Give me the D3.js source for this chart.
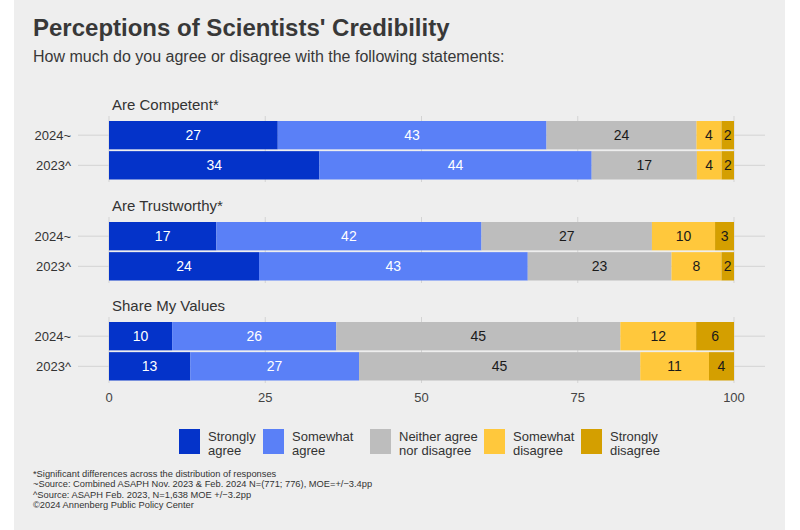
<!DOCTYPE html>
<html>
<head>
<meta charset="utf-8">
<script src="https://cdn.jsdelivr.net/npm/d3@7"></script>
<style>
  html, body { margin: 0; padding: 0; background: #ffffff; }
  svg { display: block; font-family: "Liberation Sans", Arial, Helvetica, sans-serif; }
</style>
</head>
<body>
<svg id="chart" width="800" height="530"></svg>
<script>
// ---- data ----
const facets = ["Are Competent*", "Are Trustworthy*", "Share My Values"];
const years = ["2024~", "2023^"];
const responses = ["Strongly agree", "Somewhat agree", "Neither agree nor disagree", "Somewhat disagree", "Strongly disagree"];
const legendLines = [["Strongly", "agree"], ["Somewhat", "agree"], ["Neither agree", "nor disagree"], ["Somewhat", "disagree"], ["Strongly", "disagree"]];
const colors = ["#0433c9", "#5a80f7", "#bdbdbd", "#ffc83c", "#d49f00"];
const labelColors = ["#ffffff", "#ffffff", "#1a1a1a", "#1a1a1a", "#1a1a1a"];
const competent2024 = [27, 43, 24, 4, 2];
const competent2023 = [34, 44, 17, 4, 2];
const trustworthy2024 = [17, 42, 27, 10, 3];
const trustworthy2023 = [24, 43, 23, 8, 2];
const values2024 = [10, 26, 45, 12, 6];
const values2023 = [13, 27, 45, 11, 4];
const xTicks = [0, 25, 50, 75, 100];
const footnotes = [
  "*Significant differences across the distribution of responses",
  "~Source: Combined ASAPH Nov. 2023 & Feb. 2024 N=(771; 776), MOE=+/\u22123.4pp",
  "^Source: ASAPH Feb. 2023, N=1,638 MOE +/\u22123.2pp",
  "\u00a92024 Annenberg Public Policy Center"
];
const title = "Perceptions of Scientists' Credibility";
const subtitle = "How much do you agree or disagree with the following statements:";

const rows = [
  [competent2024, competent2023],
  [trustworthy2024, trustworthy2023],
  [values2024, values2023]
];

// ---- layout ----
const svg = d3.select("#chart");
svg.append("rect").attr("x", 14).attr("y", 0).attr("width", 771).attr("height", 530).attr("fill", "#eeeeee");

svg.append("text").attr("x", 33).attr("y", 36).attr("font-size", 24).attr("font-weight", "bold")
  .attr("fill", "#383838").text(title);
svg.append("text").attr("x", 33).attr("y", 62).attr("font-size", 16)
  .attr("fill", "#383838").text(subtitle);

const x = d3.scaleLinear().domain([0, 100]).range([109, 734]);
const facetTop = [121, 222, 322];
const gridColor = "#d3d3d3";

facets.forEach((f, fi) => {
  const top = facetTop[fi];
  const y = d3.scaleBand().domain(years).range([top, top + 58.5]).paddingInner(0.06);
  const g = svg.append("g");
  // vertical grid
  g.selectAll("line.v").data(xTicks).join("line")
    .attr("x1", d => x(d)).attr("x2", d => x(d))
    .attr("y1", top - 5).attr("y2", top + 61)
    .attr("stroke", gridColor).attr("stroke-width", 1);
  // horizontal grid
  g.selectAll("line.h").data(years).join("line")
    .attr("x1", 78).attr("x2", 765)
    .attr("y1", d => y(d) + y.bandwidth() / 2).attr("y2", d => y(d) + y.bandwidth() / 2)
    .attr("stroke", gridColor).attr("stroke-width", 1);
  // facet title
  svg.append("text").attr("x", 112).attr("y", top - 11).attr("font-size", 15)
    .attr("fill", "#333").text(f);
  // y labels
  g.selectAll("text.yl").data(years).join("text")
    .attr("x", 71).attr("y", d => y(d) + y.bandwidth() / 2)
    .attr("dy", "0.35em").attr("text-anchor", "end").attr("font-size", 13)
    .attr("fill", "#333").text(d => d);
  // bars
  years.forEach((yr, yi) => {
    const vals = rows[fi][yi];
    const total = d3.sum(vals);
    let cum = 0;
    const segs = vals.map((v, i) => {
      const s = { v, i, x0: cum / total * 100, x1: (cum + v) / total * 100 };
      cum += v;
      return s;
    });
    const bg = g.append("g");
    bg.selectAll("rect").data(segs).join("rect")
      .attr("x", d => x(d.x0)).attr("width", d => x(d.x1) - x(d.x0))
      .attr("y", y(yr)).attr("height", y.bandwidth())
      .attr("fill", d => colors[d.i]);
    bg.selectAll("text").data(segs).join("text")
      .attr("x", d => (x(d.x0) + x(d.x1)) / 2)
      .attr("y", y(yr) + y.bandwidth() / 2).attr("dy", "0.36em")
      .attr("text-anchor", "middle").attr("font-size", 14)
      .attr("fill", d => labelColors[d.i]).text(d => d.v);
  });
});

// x axis labels
svg.append("g").selectAll("text").data(xTicks).join("text")
  .attr("x", d => x(d)).attr("y", 402).attr("text-anchor", "middle")
  .attr("font-size", 13).attr("fill", "#444").text(d => d);

// legend
const legendX = [179, 263, 370, 484, 581];
const lg = svg.append("g");
responses.forEach((r, i) => {
  lg.append("rect").attr("x", legendX[i]).attr("y", 429).attr("width", 21).attr("height", 25)
    .attr("fill", colors[i]);
  const t = lg.append("text").attr("x", legendX[i] + 29).attr("y", 441).attr("font-size", 13).attr("fill", "#333");
  legendLines[i].forEach((ln, li) => {
    t.append("tspan").attr("x", legendX[i] + 29).attr("dy", li === 0 ? 0 : 14).text(ln);
  });
});

// footnotes
svg.append("g").selectAll("text").data(footnotes).join("text")
  .attr("x", 33).attr("y", (d, i) => 477 + i * 10.3)
  .attr("font-size", 9.3).attr("fill", "#333").text(d => d);
</script>
</body>
</html>
